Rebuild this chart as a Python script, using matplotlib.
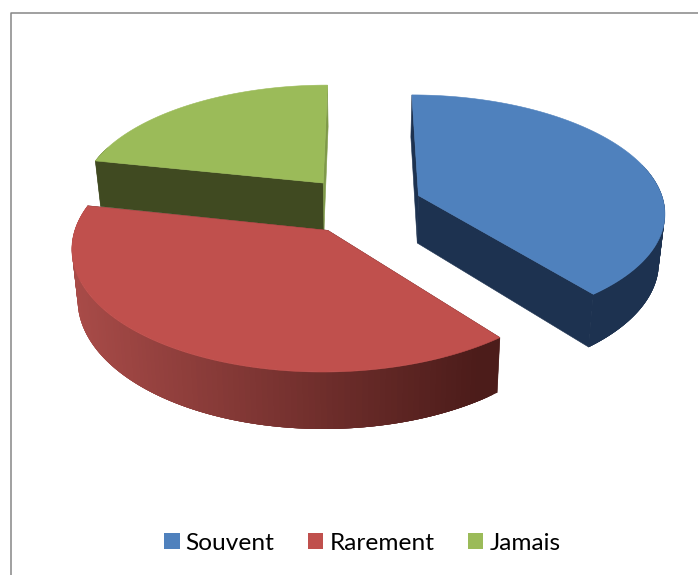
import numpy as np
import matplotlib
matplotlib.use('Agg')
import matplotlib.pyplot as plt
from matplotlib.colors import to_rgb
from matplotlib.patches import Patch, Polygon

labels = ['Souvent', 'Rarement', 'Jamais']
values = [39.3, 39.0, 21.7]
colors = ['#4F81BD', '#C0504D', '#9BBB59']
first_cut = ['#1D3250', '#4C1C1A', '#404A21']
last_cut = ['#1D3250', '#4C1C1A', '#7F9A49']
# wall colours, left end of the screen to right end
wall_left = ['#1D3250', '#A84B48', '#404A21']
wall_right = ['#1D3250', '#4C1C1A', '#404A21']

# 3D look of the pie, in pixels
vx, cy = 361, 205
rx, ry = 246, 116
persp = 0.13
depth = 48
shrink = 0.98
explode = 0.25


def project(x, y, low=False):
    s = 1 / (1 - persp * y)
    sx = vx + rx * x * s
    sy = cy + ry * y * s
    if low:
        sx = vx + (sx - vx) * shrink
        sy = sy + depth * s
    return sx, sy


def shape(pts, color, lw=0.4):
    ax.add_patch(Polygon(pts, closed=True, facecolor=color, edgecolor=color if lw else 'none', lw=lw))


fig = plt.figure(figsize=(6.98, 5.75), dpi=100)
ax = fig.add_axes([0, 0, 1, 1])
ax.set_xlim(0, 698)
ax.set_ylim(575, 0)
ax.axis('off')

# chart border runs off the right and bottom of the image
ax.plot([10.5, 10.5, 698], [575, 12.5, 12.5], color='#868686', lw=1.1)

bounds = np.cumsum([0] + values) / sum(values) * 2 * np.pi

# green goes first because the red slice sits over it
for i in [2, 0, 1]:
    a0, a1 = bounds[i], bounds[i + 1]
    mid = (a0 + a1) / 2
    ox, oy = explode * np.sin(mid), -explode * np.cos(mid)
    t = np.linspace(a0, a1, 120)
    xs = ox + np.sin(t)
    ys = oy - np.cos(t)

    top = [project(x, y) for x, y in zip(xs, ys)]
    bot = [project(x, y, low=True) for x, y in zip(xs, ys)]
    apex_top = project(ox, oy)
    apex_bot = project(ox, oy, low=True)

    shape([apex_top, top[0], bot[0], apex_bot], first_cut[i])
    shape([apex_top, top[-1], bot[-1], apex_bot], last_cut[i])

    left = np.array(to_rgb(wall_left[i]))
    right = np.array(to_rgb(wall_right[i]))
    # strips overlap the next ones so no seams show between them
    for j in range(len(t) - 1):
        # back of the rim is hidden
        if np.cos(t[j]) > 0.3:
            continue
        k = min(j + 4, len(t) - 1)
        f = np.clip((top[j][0] - 75) / (480 - 75), 0, 1)
        shape(top[j:k + 1] + bot[j:k + 1][::-1], left + (right - left) * f, lw=0)

    shape([apex_top] + top, colors[i])

handles = [Patch(facecolor=c, edgecolor='none', label=l) for c, l in zip(colors, labels)]
fig.legend(handles=handles, loc='center', bbox_to_anchor=(362.5 / 698, 1 - 543 / 575), ncol=3,
           frameon=False, prop={'family': 'Lato', 'size': 17.6},
           handlelength=0.62, handleheight=0.62, handletextpad=0.25, columnspacing=1.38,
           borderpad=0, labelcolor='#000000')

fig.savefig('out.png', dpi=100)
